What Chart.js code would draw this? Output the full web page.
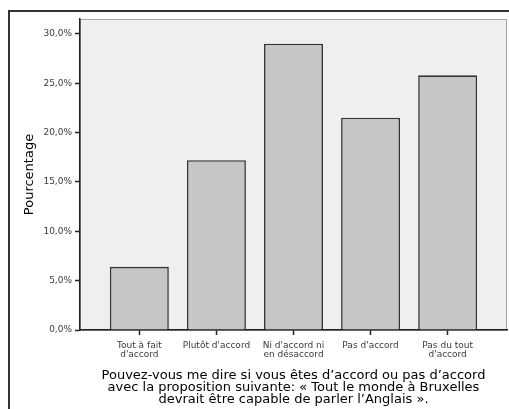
<!DOCTYPE html>
<html>
<head>
<meta charset="utf-8">
<script src="https://cdn.jsdelivr.net/npm/chart.js@4/dist/chart.umd.min.js"></script>
<style>
  html, body { margin: 0; padding: 0; background: #fff; }
  #wrap { position: relative; width: 509px; height: 409px; overflow: hidden; }
  #frame { position: absolute; left: 8px; top: 10px; right: -4px; bottom: -4px;
           border-left: 2px solid #333; border-top: 2px solid #333; }
  canvas { position: absolute; left: 0; top: 0; }
</style>
</head>
<body>
<div id="wrap">
  <div id="frame"></div>
  <canvas id="chart" width="509" height="409"></canvas>
</div>
<script>
/* ── Data ── */
const CATEGORIES = [
  ['Tout à fait', "d'accord"],
  ["Plutôt d'accord"],
  ["Ni d'accord ni", 'en désaccord'],
  ["Pas d'accord"],
  ['Pas du tout', "d'accord"],
];
const PERCENTAGES = [6.4, 17.2, 29.0, 21.5, 25.8];
const Y_TICKS = [0, 5, 10, 15, 20, 25, 30];
const Y_TITLE = 'Pourcentage';
const X_TITLE = [
  'Pouvez-vous me dire si vous êtes d’accord ou pas d’accord',
  'avec la proposition suivante: « Tout le monde à Bruxelles',
  'devrait être capable de parler l’Anglais ».',
];

const FONT = 'DejaVu Sans, Verdana, sans-serif';

/* grey plot panel behind the bars */
const plotBackground = {
  id: 'plotBackground',
  beforeDraw(chart) {
    const { ctx, chartArea: a } = chart;
    ctx.save();
    ctx.fillStyle = '#efefef';
    ctx.fillRect(a.left, a.top, a.width, a.height);
    ctx.strokeStyle = '#a8a8a8';
    ctx.lineWidth = 1;
    ctx.strokeRect(a.left + 0.5, a.top + 0.5, a.width - 1, a.height);
    ctx.restore();
  },
};

new Chart(document.getElementById('chart'), {
  type: 'bar',
  data: {
    datasets: [{
      data: PERCENTAGES.map((v, i) => ({ x: i, y: v })),
      backgroundColor: '#c6c6c6',
      borderColor: '#333',
      borderWidth: 1.6,
      barPercentage: 0.765,
      categoryPercentage: 1,
    }],
  },
  options: {
    responsive: false,
    devicePixelRatio: 1,
    animation: false,
    layout: { padding: { top: 19, right: 2, left: 0, bottom: 0 } },
    plugins: { legend: { display: false }, tooltip: { enabled: false } },
    scales: {
      x: {
        type: 'linear',
        offset: false,
        min: -0.77,
        max: CATEGORIES.length - 1 + 0.77,
        afterBuildTicks: s => { s.ticks = CATEGORIES.map((_, i) => ({ value: i })); },
        afterFit: s => { s.height = 79; },
        ticks: {
          autoSkip: false,
          maxRotation: 0,
          padding: 6,
          color: '#3a3a3a',
          font: { family: FONT, size: 9, lineHeight: 1 },
          callback: v => CATEGORIES[v],
        },
        grid: {
          display: true, offset: false, drawOnChartArea: false, drawTicks: true,
          tickLength: 5, tickColor: '#222', tickWidth: 1.5,
        },
        border: { color: '#222', width: 1.5 },
        title: {
          display: true,
          text: X_TITLE,
          color: '#000',
          font: { family: FONT, size: 13, lineHeight: 0.92 },
          padding: { top: 0, bottom: 3 },
        },
      },
      y: {
        min: 0,
        max: 31.5,
        afterBuildTicks: s => { s.ticks = Y_TICKS.map(v => ({ value: v })); },
        afterFit: s => { s.width = 80; },
        ticks: {
          padding: 3,
          color: '#3a3a3a',
          font: { family: FONT, size: 9 },
          callback: v => v.toFixed(1).replace('.', ',') + '%',
        },
        grid: { drawOnChartArea: false, tickLength: 5, tickColor: '#222', tickWidth: 1.5 },
        border: { color: '#222', width: 1.5 },
        title: {
          display: true,
          text: Y_TITLE,
          color: '#000',
          font: { family: FONT, size: 13 },
          padding: { top: 22, bottom: 0 },
        },
      },
    },
  },
  plugins: [plotBackground],
});
</script>
</body>
</html>
